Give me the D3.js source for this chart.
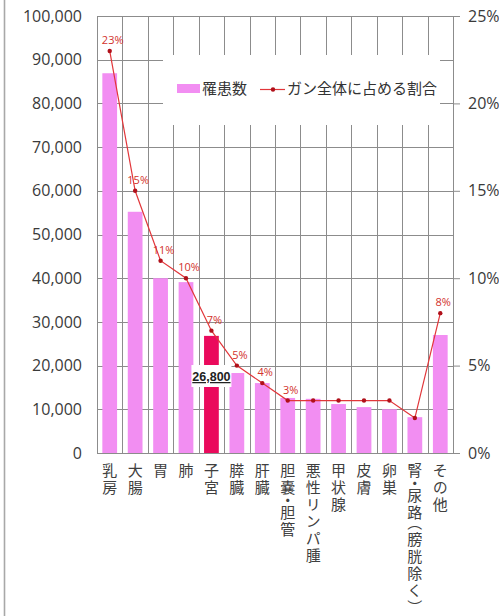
<!DOCTYPE html>
<html><head><meta charset="utf-8">
<script src="https://cdn.jsdelivr.net/npm/d3@7"></script>
<style>
html,body{margin:0;padding:0;background:#fff;}
svg{display:block;}
</style></head>
<body>
<script>
const categories = ["乳房","大腸","胃","肺","子宮","膵臓","肝臓","胆嚢・胆管","悪性リンパ腫","甲状腺","皮膚","卵巣","腎・尿路（膀胱除く）","その他"];
const cases = [86900, 55200, 40000, 39100, 26800, 18300, 16000, 12600, 12400, 11200, 10500, 10000, 8200, 27000];
const shares = [23, 15, 11, 10, 7, 5, 4, 3, 3, 3, 3, 3, 2, 8];
const shareLabelShown = [true,true,true,true,true,true,true,true,false,false,false,false,false,true];
const leftTicks = [0,10000,20000,30000,40000,50000,60000,70000,80000,90000,100000];
const rightTicks = [0,5,10,15,20,25];
const highlight = "子宮";
const legendLabels = ["罹患数","ガン全体に占める割合"];

const W = 499, H = 616;
const m = {l:97, r:46, t:16, b:163};
const svg = d3.select("body").append("svg").attr("width",W).attr("height",H);

const x = d3.scaleBand().domain(categories).range([m.l, W-m.r]).paddingInner(0).paddingOuter(0);
const y = d3.scaleLinear().domain([0,100000]).range([H-m.b, m.t]);
const yR = d3.scaleLinear().domain([0,25]).range([H-m.b, m.t]);

const grid = "#8c8c8c";
const numFont = "'Open Sans', 'Liberation Sans', sans-serif";
const jpFont = "'Noto Sans CJK JP', sans-serif";

// frame line on left
svg.append("line").attr("x1",4.5).attr("x2",4.5).attr("y1",0).attr("y2",H)
  .attr("stroke","#a8a8a8").attr("stroke-width",1.6);

// horizontal gridlines
svg.append("g").selectAll("line").data(leftTicks).join("line")
  .attr("x1",m.l).attr("x2",W-m.r)
  .attr("y1",d=>Math.round(y(d))+0.5).attr("y2",d=>Math.round(y(d))+0.5)
  .attr("stroke",grid).attr("stroke-width",1);

// vertical gridlines at band boundaries
const bounds = categories.map(c=>x(c)).concat([W-m.r]);
svg.append("g").selectAll("line").data(bounds).join("line")
  .attr("x1",d=>Math.round(d)+0.5).attr("x2",d=>Math.round(d)+0.5)
  .attr("y1",m.t).attr("y2",H-m.b)
  .attr("stroke",grid).attr("stroke-width",1);

// legend background (covers gridlines)
const lg = svg.append("g");
lg.append("rect").attr("x",163).attr("y",55).attr("width",277).attr("height",70).attr("fill","#fff");

// bars
const bw = x.bandwidth()*0.58;
svg.append("g").selectAll("rect").data(categories).join("rect")
  .attr("x",(d)=>x(d)+(x.bandwidth()-bw)/2)
  .attr("width",bw)
  .attr("y",(d,i)=>y(cases[i]))
  .attr("height",(d,i)=>y(0)-y(cases[i]))
  .attr("fill",d=>d===highlight?"#ea0a5c":"#f28ef2");

// left axis
const la = svg.append("g").attr("transform",`translate(${m.l},0)`)
  .call(d3.axisLeft(y).tickValues(leftTicks).tickFormat(d3.format(",")).tickSize(0).tickPadding(15));
la.select(".domain").remove();
la.selectAll("text").attr("font-family",numFont).attr("font-size",16).attr("fill","#3a3a3a");

// right axis
const ra = svg.append("g").attr("transform",`translate(${W-m.r},0)`)
  .call(d3.axisRight(yR).tickValues(rightTicks).tickFormat(d=>d+"%").tickSize(7).tickPadding(8));
ra.select(".domain").attr("stroke",grid);
ra.selectAll("line").attr("stroke",grid);
ra.selectAll("text").attr("font-family",numFont).attr("font-size",16).attr("fill","#3a3a3a");
// inner part of right ticks
svg.append("g").selectAll("line").data(rightTicks).join("line")
  .attr("x1",W-m.r-5).attr("x2",W-m.r)
  .attr("y1",d=>Math.round(yR(d))+0.5).attr("y2",d=>Math.round(yR(d))+0.5)
  .attr("stroke",grid);

// bottom axis line
svg.append("line").attr("x1",m.l).attr("x2",W-m.r).attr("y1",Math.round(y(0))+0.5).attr("y2",Math.round(y(0))+0.5)
  .attr("stroke",grid);

// data label on highlighted bar
const hi = categories.indexOf(highlight);
const hx = x(highlight)+x.bandwidth()/2;
svg.append("rect").attr("x",hx-20).attr("y",365).attr("width",40).attr("height",22).attr("fill","#fff");
svg.append("text").attr("x",hx).attr("y",381).attr("text-anchor","middle")
  .attr("font-family","'Liberation Sans', Arial, sans-serif").attr("font-weight","bold").attr("font-size",12.5)
  .attr("text-decoration","underline").attr("fill","#222")
  .text(d3.format(",")(cases[hi]));

// share line
const cx = d=>x(d)+x.bandwidth()/2;
const line = d3.line().x((d,i)=>cx(categories[i])).y(d=>yR(d));
svg.append("path").datum(shares).attr("d",line).attr("fill","none").attr("stroke","#e2363a").attr("stroke-width",1.2);
svg.append("g").selectAll("circle").data(shares).join("circle")
  .attr("cx",(d,i)=>cx(categories[i])).attr("cy",d=>yR(d)).attr("r",2.2).attr("fill","#b0101a");
svg.append("g").selectAll("text").data(shares.map((v,i)=>({v,i})).filter(d=>shareLabelShown[d.i])).join("text")
  .attr("x",d=>cx(categories[d.i])+3).attr("y",d=>yR(d.v)-7)
  .attr("text-anchor","middle").attr("font-family",numFont).attr("font-size",11).attr("fill","#d2322d")
  .text(d=>d.v+"%");

// legend
lg.append("rect").attr("x",177).attr("y",84).attr("width",23).attr("height",9).attr("fill","#f28ef2");
lg.append("text").attr("x",202).attr("y",94).attr("font-family",jpFont).attr("font-size",15).attr("fill","#333").text(legendLabels[0]);
lg.append("line").attr("x1",260).attr("x2",285).attr("y1",89.5).attr("y2",89.5).attr("stroke","#e2363a").attr("stroke-width",1.2);
lg.append("circle").attr("cx",273).attr("cy",89.5).attr("r",2.2).attr("fill","#b0101a");
lg.append("text").attr("x",287).attr("y",94).attr("font-family",jpFont).attr("font-size",15).attr("fill","#333").text(legendLabels[1]);

// x labels, vertical; per-character spacing so punctuation is compact
const xl = svg.append("g");
categories.forEach(c=>{
  const t = xl.append("text").attr("x",cx(c)).attr("y",463)
    .attr("font-family",jpFont).attr("font-size",15).attr("fill","#404040")
    .style("writing-mode","vertical-rl");
  const chars = Array.from(c);
  chars.forEach((ch,k)=>{
    const next = chars[k+1];
    let sp = 2;
    if(ch==="・") sp = -2.5;
    else if(next==="・") sp = -2.5;
    if(next==="（") sp = -5;
    if(ch==="）") sp = 0;
    t.append("tspan").style("letter-spacing",sp+"px").text(ch);
  });
});
</script>
</body></html>
